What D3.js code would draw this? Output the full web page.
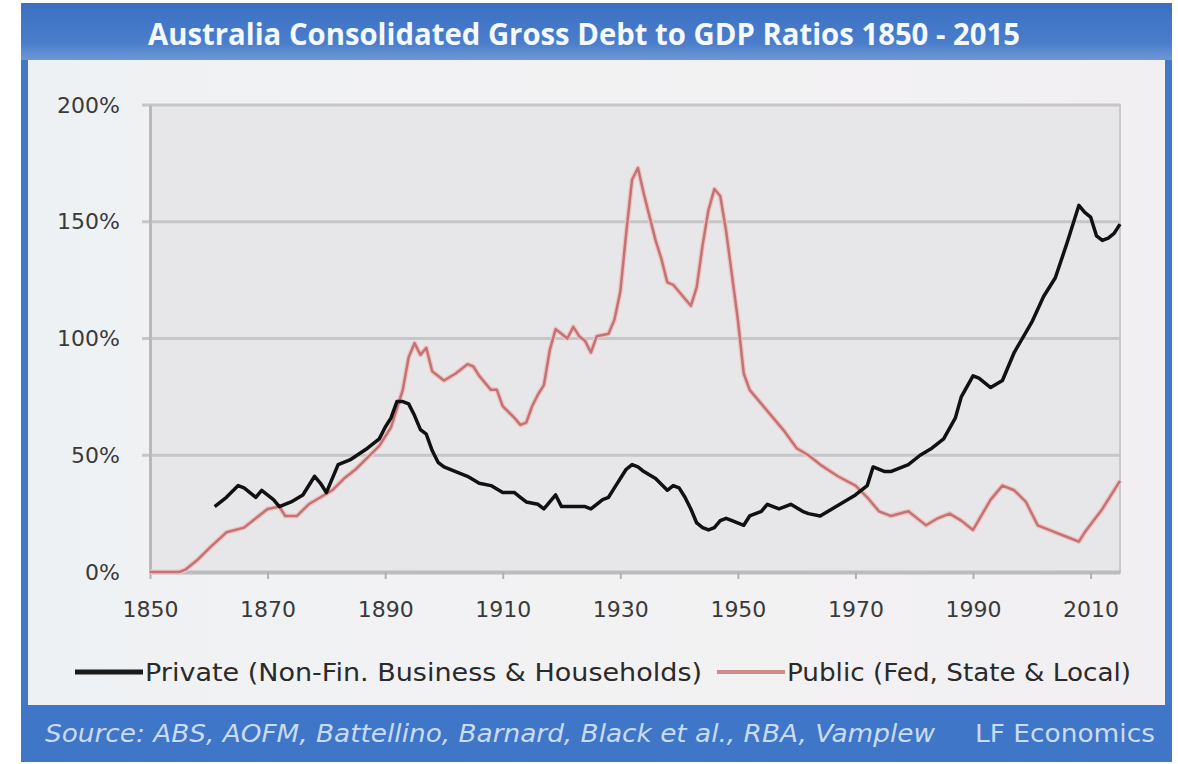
<!DOCTYPE html>
<html>
<head>
<meta charset="utf-8">
<script src="https://d3js.org/d3.v7.min.js"></script>
<style>
  body { margin: 0; background: #ffffff; }
  svg { display: block; }
</style>
</head>
<body>
<div id="graph"></div>
<script>
// Australia consolidated gross debt to GDP (percent)
var privateYears = [1861,1863,1865,1866,1868,1869,1871,1872,1874,1876,1878,1879,1880,1882,1884,1887,1889,1890,1891,1892,1893,1894,1895,1896,1897,1898,1899,1900,1902,1904,1906,1908,1910,1912,1913,1914,1916,1917,1918,1919,1920,1922,1924,1925,1927,1928,1929,1931,1932,1933,1934,1936,1938,1939,1940,1941,1942,1943,1944,1945,1946,1947,1948,1949,1951,1952,1954,1955,1957,1959,1961,1962,1964,1966,1968,1970,1972,1973,1975,1976,1979,1981,1983,1985,1987,1988,1990,1991,1993,1995,1997,2000,2002,2004,2006,2008,2009,2010,2011,2012,2013,2014,2015];
var privateValues = [28,32,37,36,32,35,31,28,30,33,41,38,34,46,48,53,57,62,66,73,73,72,67,61,59,52,47,45,43,41,38,37,34,34,32,30,29,27,30,33,28,28,28,27,31,32,36,44,46,45,43,40,35,37,36,32,27,21,19,18,19,22,23,22,20,24,26,29,27,29,26,25,24,27,30,33,37,45,43,43,46,50,53,57,66,75,84,83,79,82,94,107,118,126,141,157,154,152,144,142,143,145,149];

var publicYears = [1850,1855,1856,1858,1860,1863,1866,1868,1870,1872,1873,1875,1877,1879,1881,1883,1885,1887,1889,1891,1892,1893,1894,1895,1896,1897,1898,1900,1902,1904,1905,1906,1908,1909,1910,1912,1913,1914,1915,1916,1917,1918,1919,1920,1921,1922,1923,1924,1925,1926,1928,1929,1930,1931,1932,1933,1934,1935,1936,1937,1938,1939,1940,1941,1942,1943,1944,1945,1946,1947,1948,1949,1950,1951,1952,1954,1956,1958,1960,1962,1964,1967,1970,1972,1974,1976,1979,1981,1982,1984,1986,1988,1990,1993,1995,1997,1999,2001,2004,2006,2008,2009,2012,2015];
var publicValues = [0,0,1,5,10,17,19,23,27,28,24,24,29,32,35,40,44,49,54,62,70,78,92,98,93,96,86,82,85,89,88,84,78,78,71,66,63,64,71,76,80,95,104,102,100,105,101,99,94,101,102,108,120,145,168,173,162,152,142,134,124,123,120,117,114,122,140,155,164,161,146,127,108,85,78,72,66,60,53,50,46,41,37,32,26,24,26,22,20,23,25,22,18,31,37,35,30,20,17,15,13,17,27,39];

var yTicks = [0, 50, 100, 150, 200];
var xTicks = [1850, 1870, 1890, 1910, 1930, 1950, 1970, 1990, 2010];

var titleText = "Australia Consolidated Gross Debt to GDP Ratios 1850 - 2015";
var legendPrivate = "Private (Non-Fin. Business & Households)";
var legendPublic = "Public (Fed, State & Local)";
var sourceText = "Source: ABS, AOFM, Battellino, Barnard, Black et al., RBA, Vamplew";
var creditText = "LF Economics";

const fullwidth = 1178;
const fullheight = 764;

// plot box
const plotLeft = 150, plotRight = 1120, plotTop = 105, plotBottom = 572;

var svg = d3.select("#graph")
  .append("svg")
  .attr("width", fullwidth)
  .attr("height", fullheight);

var defs = svg.append("defs");

var bandGrad = defs.append("linearGradient")
  .attr("id", "band")
  .attr("x1", 0).attr("y1", 0).attr("x2", 0).attr("y2", 1);
bandGrad.append("stop").attr("offset", "0%").attr("stop-color", "#3b6fc2");
bandGrad.append("stop").attr("offset", "70%").attr("stop-color", "#4a7ecb");
bandGrad.append("stop").attr("offset", "100%").attr("stop-color", "#6d98d6");

var innerGrad = defs.append("linearGradient")
  .attr("id", "inner")
  .attr("x1", 0).attr("y1", 0).attr("x2", 1).attr("y2", 0);
innerGrad.append("stop").attr("offset", "0%").attr("stop-color", "#eef1f3");
innerGrad.append("stop").attr("offset", "50%").attr("stop-color", "#f3f2f3");
innerGrad.append("stop").attr("offset", "100%").attr("stop-color", "#f1eff2");

//Outer blue frame
svg.append("rect")
  .attr("x", 21).attr("y", 3)
  .attr("width", 1151).attr("height", 759)
  .attr("fill", "#4178c8");

//Title band
svg.append("rect")
  .attr("x", 21).attr("y", 3)
  .attr("width", 1151).attr("height", 57)
  .attr("fill", "url(#band)");

//Light inner panel
svg.append("rect")
  .attr("x", 28).attr("y", 60)
  .attr("width", 1137).attr("height", 645)
  .attr("fill", "url(#inner)");

//Footer band
svg.append("rect")
  .attr("x", 21).attr("y", 705)
  .attr("width", 1151).attr("height", 57)
  .attr("fill", "#3f76c8");

//Title
svg.append("text")
  .attr("x", 584)
  .attr("y", 45)
  .attr("text-anchor", "middle")
  .attr("font-family", "'Open Sans', 'DejaVu Sans', sans-serif")
  .attr("font-weight", "bold")
  .attr("font-size", 31)
  .attr("fill", "#f4f8ff")
  .attr("textLength", 872)
  .attr("lengthAdjust", "spacingAndGlyphs")
  .text(titleText);

//Scales
var xScale = d3.scaleLinear()
  .domain([1850, 2015])
  .range([plotLeft, plotRight]);

var yScale = d3.scaleLinear()
  .domain([0, 200])
  .range([plotBottom, plotTop]);

//Plot background
svg.append("rect")
  .attr("x", plotLeft).attr("y", plotTop)
  .attr("width", plotRight - plotLeft).attr("height", plotBottom - plotTop)
  .attr("fill", "#e7e6e8")
  .attr("stroke", "#c9c9cb")
  .attr("stroke-width", 2);

//Gridlines
svg.append("g")
  .selectAll("line")
  .data(yTicks.filter(d => d > 0))
  .enter().append("line")
    .attr("x1", plotLeft - 8)
    .attr("x2", plotRight)
    .attr("y1", d => yScale(d))
    .attr("y2", d => yScale(d))
    .attr("stroke", "#c6c6c8")
    .attr("stroke-width", 3);

// y axis
var yAxis = d3.axisLeft(yScale)
  .tickValues(yTicks)
  .tickFormat(d => d + "%")
  .tickSize(0)
  .tickPadding(30);

var yG = svg.append("g")
  .attr("transform", "translate(" + plotLeft + ",0)")
  .call(yAxis);
yG.select(".domain")
  .attr("stroke", "#b9b9bb")
  .attr("stroke-width", 3);
yG.selectAll("text")
  .attr("font-family", "'DejaVu Sans', sans-serif")
  .attr("font-size", 22)
  .attr("fill", "#3a3a3a");

// x axis
var xAxis = d3.axisBottom(xScale)
  .tickValues(xTicks)
  .tickFormat(d3.format("d"))
  .tickSize(7)
  .tickSizeOuter(0)
  .tickPadding(22);

var xG = svg.append("g")
  .attr("transform", "translate(0," + plotBottom + ")")
  .call(xAxis);
xG.select(".domain")
  .attr("stroke", "#bcbcbe")
  .attr("stroke-width", 4);
xG.selectAll(".tick line")
  .attr("stroke", "#b0b0b2")
  .attr("stroke-width", 2);
xG.selectAll("text")
  .attr("font-family", "'DejaVu Sans', sans-serif")
  .attr("font-size", 22)
  .attr("fill", "#3a3a3a");

//Lines
var line = d3.line()
  .x(d => xScale(d[0]))
  .y(d => yScale(d[1]));

var publicData = d3.zip(publicYears, publicValues);
var privateData = d3.zip(privateYears, privateValues);

// soft halo under the public line
svg.append("path")
  .datum(publicData)
  .attr("fill", "none")
  .attr("stroke", "#f0c4c4")
  .attr("stroke-width", 5)
  .attr("stroke-linejoin", "round")
  .attr("d", line);

svg.append("path")
  .datum(publicData)
  .attr("fill", "none")
  .attr("stroke", "#c27474")
  .attr("stroke-width", 2.5)
  .attr("stroke-linejoin", "round")
  .attr("d", line);

svg.append("path")
  .datum(privateData)
  .attr("fill", "none")
  .attr("stroke", "#111111")
  .attr("stroke-width", 3.5)
  .attr("stroke-linejoin", "round")
  .attr("d", line);

//Legend
var legend = svg.append("g").attr("class", "legend");

legend.append("line")
  .attr("x1", 75).attr("x2", 143)
  .attr("y1", 672).attr("y2", 672)
  .attr("stroke", "#1a1a1a")
  .attr("stroke-width", 5);

legend.append("text")
  .attr("x", 145).attr("y", 681)
  .attr("font-family", "'DejaVu Sans', sans-serif")
  .attr("font-size", 24)
  .attr("fill", "#2a2a2a")
  .attr("textLength", 557)
  .attr("lengthAdjust", "spacingAndGlyphs")
  .text(legendPrivate);

legend.append("line")
  .attr("x1", 717).attr("x2", 785)
  .attr("y1", 672).attr("y2", 672)
  .attr("stroke", "#d08a8a")
  .attr("stroke-width", 4);

legend.append("text")
  .attr("x", 787).attr("y", 681)
  .attr("font-family", "'DejaVu Sans', sans-serif")
  .attr("font-size", 24)
  .attr("fill", "#2a2a2a")
  .attr("textLength", 344)
  .attr("lengthAdjust", "spacingAndGlyphs")
  .text(legendPublic);

//Footer
svg.append("text")
  .attr("x", 45).attr("y", 742)
  .attr("font-family", "'DejaVu Sans', sans-serif")
  .attr("font-style", "italic")
  .attr("font-size", 24)
  .attr("fill", "#c9dcf4")
  .attr("textLength", 890)
  .attr("lengthAdjust", "spacingAndGlyphs")
  .text(sourceText);

svg.append("text")
  .attr("x", 975).attr("y", 742)
  .attr("font-family", "'DejaVu Sans', sans-serif")
  .attr("font-size", 24)
  .attr("fill", "#c9dcf4")
  .attr("textLength", 180)
  .attr("lengthAdjust", "spacingAndGlyphs")
  .text(creditText);
</script>
</body>
</html>
